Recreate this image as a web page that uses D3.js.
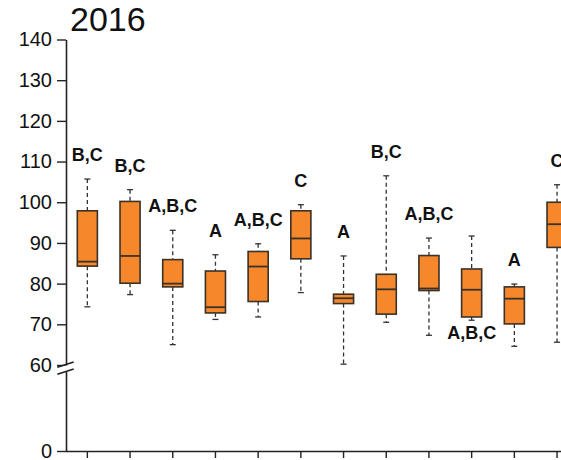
<!DOCTYPE html>
<html>
<head>
<meta charset="utf-8">
<script src="https://cdn.jsdelivr.net/npm/d3@7"></script>
<style>
  html, body { margin: 0; padding: 0; background: #fff; }
  svg { display: block; }
</style>
</head>
<body>
<svg id="chart" width="561" height="460"></svg>
<script>
// ---- data ----
const categories = ["G1","G2","G3","G4","G5","G6","G7","G8","G9","G10","G11","G12"];
const whiskerLow  = [74.3, 77.3, 65.0, 71.2, 71.8, 77.8, 60.2, 70.5, 67.3, 71.0, 64.6, 65.6];
const q1Values    = [84.3, 80.1, 79.2, 72.8, 75.6, 86.1, 75.1, 72.5, 78.3, 71.8, 70.1, 88.9];
const medians     = [85.4, 86.8, 80.0, 74.2, 84.2, 91.1, 76.4, 78.6, 78.8, 78.5, 76.3, 94.6];
const q3Values    = [97.9, 100.2, 85.9, 83.1, 87.9, 97.9, 77.4, 82.3, 86.9, 83.6, 79.2, 100.0];
const whiskerHigh = [105.7, 103.1, 93.1, 87.1, 89.8, 99.4, 86.8, 106.5, 91.2, 91.7, 79.9, 104.3];
const groupLabels = ["B,C","B,C","A,B,C","A","A,B,C","C","A","B,C","A,B,C","A,B,C","A","C"];
const labelSide   = ["above","above","above","above","above","above","above","above","above","below","above","above"];
const yTicks = [0, 60, 70, 80, 90, 100, 110, 120, 130, 140];
const title = "2016";

// ---- layout ----
const svg = d3.select("#chart");
const axisX = 66, baseY = 451;
const x = d3.scaleBand()
  .domain(categories)
  .range([axisX, axisX + 12 * 42.7])
  .paddingInner(0.53)
  .paddingOuter(0.265);
// broken axis: 0..60 compressed, 60..140 linear
const y = d3.scaleLinear().domain([0, 60, 140]).range([baseY, 365, 39.5]);

const fontFam = "'Liberation Sans', Arial, Helvetica, sans-serif";
const ink = "#222";

// title
svg.append("text")
  .attr("x", 70).attr("y", 31)
  .attr("font-family", fontFam).attr("font-size", 34)
  .attr("fill", "#111")
  .text(title);

// y axis
const yAxis = svg.append("g")
  .attr("transform", `translate(${axisX},0)`)
  .call(d3.axisLeft(y).tickValues(yTicks).tickSize(9).tickSizeOuter(0).tickPadding(5).tickFormat(d3.format("d")));
yAxis.select(".domain").attr("stroke", ink).attr("stroke-width", 1.6);
yAxis.selectAll(".tick line").attr("stroke", ink).attr("stroke-width", 1.4);
yAxis.selectAll(".tick text")
  .attr("font-family", fontFam).attr("font-size", 20).attr("fill", "#111");

// x axis
const xAxis = svg.append("g")
  .attr("transform", `translate(0,${baseY})`)
  .call(d3.axisBottom(x).tickSize(7).tickSizeOuter(0).tickFormat(""));
xAxis.select(".domain").attr("stroke", ink).attr("stroke-width", 1.6)
  .attr("d", `M${axisX},0.5H561`);
xAxis.selectAll(".tick line").attr("stroke", ink).attr("stroke-width", 1.4);

// axis break
svg.append("rect").attr("x", axisX - 3).attr("y", 365.5).attr("width", 6).attr("height", 6.5).attr("fill", "#fff");
[[367.3, 362], [374.3, 369]].forEach(([y1, y2]) => {
  svg.append("line")
    .attr("x1", 57.3).attr("y1", y1).attr("x2", 73.7).attr("y2", y2)
    .attr("stroke", ink).attr("stroke-width", 1.6);
});

// boxes
const boxFill = "#F6882B", boxStroke = "#3a3128";
const data = categories.map((c, i) => ({
  c, lo: whiskerLow[i], q1: q1Values[i], med: medians[i], q3: q3Values[i], hi: whiskerHigh[i],
  label: groupLabels[i], side: labelSide[i]
}));
const g = svg.append("g");
const bw = x.bandwidth();
const cap = 3;

const box = g.selectAll("g.box").data(data).join("g").attr("class", "box")
  .attr("transform", d => `translate(${x(d.c) + bw / 2},0)`);

// whiskers (dashed)
box.append("line")
  .attr("x1", 0).attr("x2", 0)
  .attr("y1", d => y(d.hi)).attr("y2", d => y(d.q3))
  .attr("stroke", "#333").attr("stroke-width", 1.3).attr("stroke-dasharray", "4,3");
box.append("line")
  .attr("x1", 0).attr("x2", 0)
  .attr("y1", d => y(d.q1)).attr("y2", d => y(d.lo))
  .attr("stroke", "#333").attr("stroke-width", 1.3).attr("stroke-dasharray", "4,3");
// caps
box.append("line")
  .attr("x1", -cap).attr("x2", cap)
  .attr("y1", d => y(d.hi)).attr("y2", d => y(d.hi))
  .attr("stroke", "#333").attr("stroke-width", 1.3);
box.append("line")
  .attr("x1", -cap).attr("x2", cap)
  .attr("y1", d => y(d.lo)).attr("y2", d => y(d.lo))
  .attr("stroke", "#333").attr("stroke-width", 1.3);
// box body
box.append("rect")
  .attr("x", -bw / 2).attr("width", bw)
  .attr("y", d => y(d.q3)).attr("height", d => y(d.q1) - y(d.q3))
  .attr("fill", boxFill).attr("stroke", boxStroke).attr("stroke-width", 1.6);
// median
box.append("line")
  .attr("x1", -bw / 2).attr("x2", bw / 2)
  .attr("y1", d => y(d.med)).attr("y2", d => y(d.med))
  .attr("stroke", boxStroke).attr("stroke-width", 1.8);

// group letters
box.append("text")
  .attr("x", 0)
  .attr("y", d => d.side === "above" ? y(d.hi) - 18 : y(d.q1) + 22)
  .attr("text-anchor", "middle")
  .attr("font-family", fontFam).attr("font-weight", "bold").attr("font-size", 18)
  .attr("fill", "#111")
  .text(d => d.label);
</script>
</body>
</html>
